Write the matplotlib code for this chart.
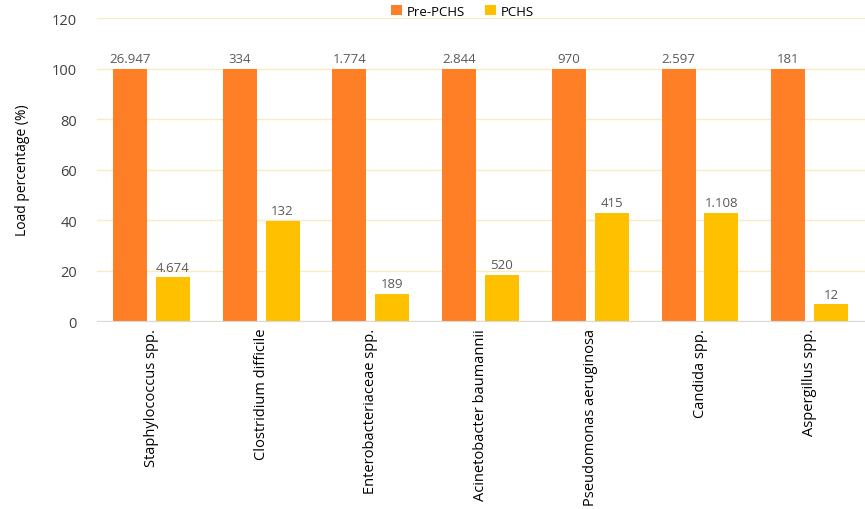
import numpy as np
import matplotlib.pyplot as plt

plt.rcParams['font.family'] = ['Open Sans', 'DejaVu Sans']

# categories and data
species = ['Staphylococcus spp.', 'Clostridium difficile', 'Enterobacteriaceae spp.',
           'Acinetobacter baumannii', 'Pseudomonas aeruginosa', 'Candida spp.',
           'Aspergillus spp.']
pre_pchs = [100, 100, 100, 100, 100, 100, 100]
pchs = [17.3, 39.5, 10.7, 18.3, 42.8, 42.7, 6.6]
pre_labels = ['26.947', '334', '1.774', '2.844', '970', '2.597', '181']
pchs_labels = ['4.674', '132', '189', '520', '415', '1.108', '12']

orange = '#FF7F27'
yellow = '#FFC000'
txt = '#404040'

fig = plt.figure(figsize=(8.65, 5.10), dpi=100)
ax = fig.add_axes([0.1116, 0.3686, 0.888, 0.5941])

x = np.arange(len(species))
w = 0.31
off = 0.195
b1 = ax.bar(x - off, pre_pchs, w, color=orange, label='Pre-PCHS', zorder=3)
b2 = ax.bar(x + off, pchs, w, color=yellow, label='PCHS', zorder=3)

for rect, lab in zip(b1, pre_labels):
    ax.text(rect.get_x() + rect.get_width() / 2, rect.get_height() + 1.5, lab,
            ha='center', va='bottom', fontsize=9.5, color='#595959')
for rect, lab in zip(b2, pchs_labels):
    ax.text(rect.get_x() + rect.get_width() / 2, rect.get_height() + 1.5, lab,
            ha='center', va='bottom', fontsize=9.5, color='#595959')

ax.set_xlim(-0.5, len(species) - 0.5)
ax.set_ylim(0, 120)
ax.set_yticks(range(0, 121, 20))
ax.set_xticks(x)
ax.set_xticklabels(species, rotation=90, fontsize=10.5, color='black')
ax.tick_params(axis='y', labelsize=10.5, colors=txt, length=0, pad=14)
ax.tick_params(axis='x', length=0, pad=5)
ax.grid(axis='y', color='#FCEBC0', linewidth=1, zorder=0)
for s in ['top', 'right', 'left']:
    ax.spines[s].set_visible(False)
ax.spines['bottom'].set_color('#D9D9D9')
ax.spines['bottom'].set_zorder(4)
ax.set_ylabel('Load percentage (%)', fontsize=10, color='black', labelpad=16)

fig.legend(handles=[b1, b2], loc='upper center', bbox_to_anchor=(0.535, 1.012),
           ncol=2, frameon=False, fontsize=9.5, handlelength=0.8, handleheight=0.8,
           columnspacing=1.5, handletextpad=0.4)

fig.savefig('out.png', dpi=100)
